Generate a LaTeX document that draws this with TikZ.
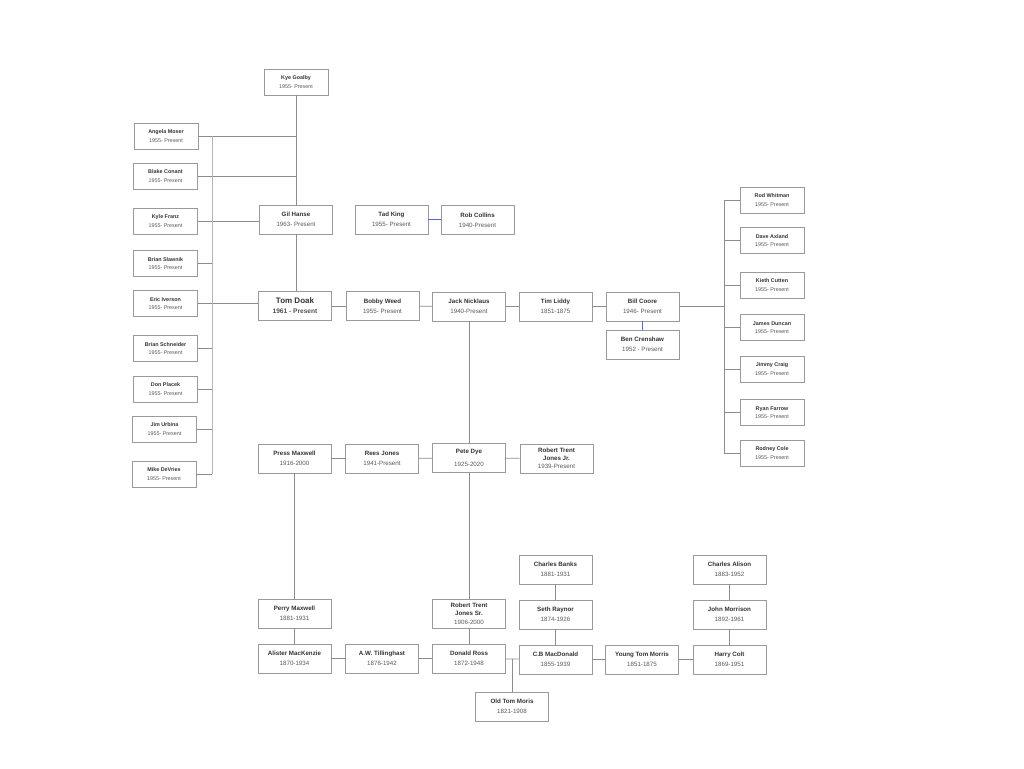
\documentclass[tikz,border=0pt]{standalone}
\usepackage{fontspec}
\setmainfont{Liberation Sans}
\definecolor{boxc}{HTML}{9A9A9A}
\definecolor{linec}{HTML}{8C8C8C}
\definecolor{busc}{HTML}{B4B4B4}
\definecolor{bluec}{HTML}{5566D8}
\definecolor{namec}{HTML}{333333}
\definecolor{datec}{HTML}{5A5A5A}
\newcommand\pname[1]{{\bfseries\color{namec}#1}}
\newcommand\pdate[1]{{\color{datec}#1}}
\tikzset{
  pbox/.style={draw=boxc, line width=0.8pt, fill=white, minimum width=73pt, minimum height=29pt, inner sep=1pt, align=center, font=\fontsize{6.2}{10}\selectfont},
  sbox/.style={draw=boxc, line width=0.8pt, fill=white, minimum width=64pt, minimum height=26pt, inner sep=1pt, align=center, font=\fontsize{5.4}{8.2}\selectfont},
  conn/.style={draw=linec, line width=0.7pt},
  bus/.style={draw=busc, line width=0.9pt},
  blueconn/.style={draw=bluec, line width=1.1pt}
}
\begin{document}
\begin{tikzpicture}[x=1pt,y=-1pt]
\useasboundingbox (0,0) rectangle (1024,768);
\fill[white] (0,0) rectangle (1024,768);

% left column
\node[sbox] (kye) at (296,82) {\pname{Kye Goalby}\\\pdate{1955- Present}};
\node[sbox] (angela) at (166,136) {\pname{Angela Moser}\\\pdate{1955- Present}};
\node[sbox] (blake) at (165.5,176) {\pname{Blake Conant}\\\pdate{1955- Present}};
\node[sbox] (kylef) at (165.5,221) {\pname{Kyle Franz}\\\pdate{1955- Present}};
\node[sbox] (slawnik) at (165.5,263.5) {\pname{Brian Slawnik}\\\pdate{1955- Present}};
\node[sbox] (iverson) at (165.5,303.5) {\pname{Eric Iverson}\\\pdate{1955- Present}};
\node[sbox] (schneider) at (165.5,348.5) {\pname{Brian Schneider}\\\pdate{1955- Present}};
\node[sbox] (placek) at (165.5,389) {\pname{Don Placek}\\\pdate{1955- Present}};
\node[sbox] (urbina) at (164.5,429) {\pname{Jim Urbina}\\\pdate{1955- Present}};
\node[sbox] (devries) at (164,474) {\pname{Mike DeVries}\\\pdate{1955- Present}};

% middle upper
\node[pbox] (gil) at (296,219.5) {\pname{Gil Hanse}\\\pdate{1963- Present}};
\node[pbox] (tad) at (391.5,219.5) {\pname{Tad King}\\\pdate{1955- Present}};
\node[pbox] (rob) at (477.5,220) {\pname{Rob Collins}\\\pdate{1940-Present}};
\node[pbox, font=\fontsize{8}{10}\selectfont] (doak) at (295,306) {\pname{Tom Doak}\\{\fontsize{6.6}{8}\selectfont\bfseries\color{namec!85!white}1961 - Present}};
\node[pbox] (weed) at (382.5,306) {\pname{Bobby Weed}\\\pdate{1955- Present}};
\node[pbox] (jack) at (469,306.5) {\pname{Jack Nicklaus}\\\pdate{1940-Present}};
\node[pbox] (tim) at (555.5,306.5) {\pname{Tim Liddy}\\\pdate{1851-1875}};
\node[pbox] (bill) at (642.5,306.5) {\pname{Bill Coore}\\\pdate{1946- Present}};
\node[pbox] (ben) at (642.5,344.5) {\pname{Ben Crenshaw}\\\pdate{1952 - Present}};

% right column
\node[sbox] (rod) at (772,200) {\pname{Rod Whitman}\\\pdate{1955- Present}};
\node[sbox] (dave) at (772,240.5) {\pname{Dave Axland}\\\pdate{1955- Present}};
\node[sbox] (kieth) at (772,285) {\pname{Kieth Cutten}\\\pdate{1955- Present}};
\node[sbox] (james) at (772,327.5) {\pname{James Duncan}\\\pdate{1955- Present}};
\node[sbox] (jimmy) at (772,369) {\pname{Jimmy Craig}\\\pdate{1955- Present}};
\node[sbox] (ryan) at (772,412.5) {\pname{Ryan Farrow}\\\pdate{1955- Present}};
\node[sbox] (rodney) at (772,453) {\pname{Rodney Cole}\\\pdate{1955- Present}};

% middle row
\node[pbox] (press) at (294.5,458.5) {\pname{Press Maxwell}\\\pdate{1916-2000}};
\node[pbox] (rees) at (382,458.5) {\pname{Rees Jones}\\\pdate{1941-Present}};
\node[pbox, font=\fontsize{6.2}{12.5}\selectfont] (pete) at (469,458) {\pname{Pete Dye}\\\pdate{1925-2020}};
\node[pbox, font=\fontsize{6.2}{7.6}\selectfont] (rtjr) at (556.5,458.5) {\pname{Robert Trent}\\\pname{Jones Jr.}\\[1pt]\pdate{1939-Present}};

% bottom
\node[pbox] (perry) at (294.5,613.5) {\pname{Perry Maxwell}\\\pdate{1881-1931}};
\node[pbox, font=\fontsize{6.2}{7.6}\selectfont] (rtsr) at (469,614) {\pname{Robert Trent}\\\pname{Jones Sr.}\\[1.5pt]\pdate{1906-2000}};
\node[pbox] (alister) at (294.5,658.5) {\pname{Alister MacKenzie}\\\pdate{1870-1934}};
\node[pbox] (aw) at (382,658.5) {\pname{A.W. Tillinghast}\\\pdate{1876-1942}};
\node[pbox] (donald) at (469,658.5) {\pname{Donald Ross}\\\pdate{1872-1948}};
\node[pbox] (oldtom) at (512,706.5) {\pname{Old Tom Moris}\\\pdate{1821-1908}};
\node[pbox] (banks) at (555.5,569.5) {\pname{Charles Banks}\\\pdate{1881-1931}};
\node[pbox] (seth) at (555.5,614.5) {\pname{Seth Raynor}\\\pdate{1874-1926}};
\node[pbox] (cb) at (555.5,659.5) {\pname{C.B MacDonald}\\\pdate{1855-1939}};
\node[pbox] (ytm) at (642,659.5) {\pname{Young Tom Morris}\\\pdate{1851-1875}};
\node[pbox] (alison) at (729.5,569.5) {\pname{Charles Alison}\\\pdate{1883-1952}};
\node[pbox] (morrison) at (729.5,614.5) {\pname{John Morrison}\\\pdate{1892-1961}};
\node[pbox] (colt) at (729.5,659.5) {\pname{Harry Colt}\\\pdate{1869-1951}};

% coordinates
\coordinate (lbtop) at (212,136);
\coordinate (lbbot) at (212,474);
\coordinate (rbtop) at (724,200);
\coordinate (rbbot) at (724,453);
\coordinate (rbjoin) at (724,306.5);

% left connectors
\draw[conn] (kye.south) -- (kye.south |- gil.north);
\draw[conn] (gil.south) -- (gil.south |- doak.north);
\draw[conn] (angela.east) -- (angela.east -| kye.south);
\draw[conn] (blake.east) -- (blake.east -| kye.south);
\draw[conn] (kylef.east) -- (kylef.east -| gil.west);
\draw[conn] (iverson.east) -- (iverson.east -| doak.west);
\draw[bus] (lbtop) -- (lbbot);
\foreach \n in {slawnik,schneider,placek,urbina,devries}{
  \draw[conn] (\n.east) -- (\n.east -| lbtop);
}

% main row
\draw[conn] (doak) -- (weed);
\draw[conn] (weed) -- (jack);
\draw[conn] (jack) -- (tim);
\draw[conn] (tim) -- (bill);
\draw[blueconn] (tad.east) -- (tad.east -| rob.west);
\draw[blueconn] (bill) -- (ben);
\draw[conn] (bill.east) -- (rbjoin);
\draw[conn] (rbtop) -- (rbbot);
\foreach \n in {rod,dave,kieth,james,jimmy,ryan,rodney}{
  \draw[conn] (\n.west -| rbtop) -- (\n.west);
}

% middle
\draw[conn] (jack) -- (pete);
\draw[conn] (press) -- (rees);
\draw[conn] (rees) -- (pete);
\draw[conn] (pete) -- (rtjr);
\draw[conn] (press) -- (perry);
\draw[conn] (pete) -- (rtsr);

% bottom
\draw[conn] (perry) -- (alister);
\draw[conn] (rtsr) -- (donald);
\draw[conn] (alister) -- (aw);
\draw[conn] (aw) -- (donald);
\draw[conn] (donald) -- (cb);
\coordinate (otj) at (donald.east -| oldtom.north);
\draw[conn] (otj) -- (oldtom.north);
\draw[conn] (cb) -- (ytm);
\draw[conn] (ytm) -- (colt);
\draw[conn] (banks) -- (seth);
\draw[conn] (seth) -- (cb);
\draw[conn] (alison) -- (morrison);
\draw[conn] (morrison) -- (colt);
\end{tikzpicture}
\end{document}
